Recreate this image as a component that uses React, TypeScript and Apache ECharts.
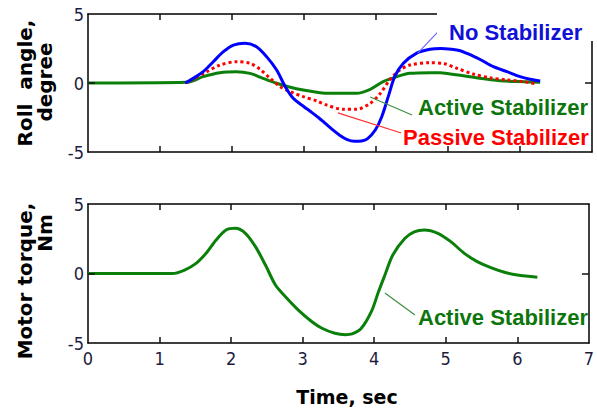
import React, { useEffect, useRef } from "react";
import * as echarts from "echarts";

// Top plot: roll angle (degree) vs time (sec)
const noStabX = [1.35, 1.45, 1.6, 1.74, 1.88, 2.02, 2.18, 2.34, 2.48, 2.62, 2.74, 2.85, 3.0, 3.1, 3.2, 3.3, 3.4, 3.5, 3.6, 3.7, 3.8, 3.88, 3.99, 4.08, 4.17, 4.26, 4.38, 4.56, 4.75, 4.9, 5.05, 5.17, 5.26, 5.44, 5.63, 5.82, 6.0, 6.14, 6.28];
const noStabY = [0, 0.3, 0.82, 1.54, 2.27, 2.75, 2.88, 2.63, 1.91, 0.94, -0.27, -1.11, -1.72, -2.1, -2.5, -2.95, -3.4, -3.8, -4.1, -4.22, -4.2, -4.05, -3.41, -2.44, -0.99, 0.46, 1.43, 2.15, 2.44, 2.5, 2.44, 2.34, 2.15, 1.72, 1.18, 0.82, 0.46, 0.27, 0.14];

const passiveX = [1.35, 1.45, 1.65, 1.83, 2.06, 2.25, 2.39, 2.53, 2.67, 2.81, 2.99, 3.18, 3.31, 3.55, 3.73, 3.92, 4.06, 4.19, 4.33, 4.47, 4.75, 4.95, 5.12, 5.35, 5.58, 5.82, 6.05, 6.23];
const passiveY = [0, 0.25, 0.82, 1.3, 1.54, 1.43, 0.99, 0.34, -0.27, -0.63, -0.99, -1.3, -1.59, -1.91, -1.91, -1.47, -0.75, 0.22, 0.94, 1.3, 1.47, 1.4, 1.07, 0.65, 0.38, 0.22, 0.1, -0.07];

const activeX = [0, 1.37, 1.6, 1.83, 2.06, 2.25, 2.43, 2.62, 2.81, 2.99, 3.22, 3.36, 3.73, 3.92, 4.1, 4.29, 4.47, 4.75, 4.89, 5.03, 5.17, 5.44, 5.72, 6.0, 6.28];
const activeY = [0, 0.05, 0.46, 0.75, 0.82, 0.7, 0.34, -0.02, -0.31, -0.51, -0.7, -0.75, -0.75, -0.46, 0.1, 0.46, 0.7, 0.75, 0.75, 0.66, 0.56, 0.34, 0.17, 0.1, 0.05];

// Bottom plot: motor torque (Nm) vs time (sec)
const torqueX = [0, 1.18, 1.35, 1.51, 1.65, 1.79, 1.93, 2.06, 2.2, 2.34, 2.48, 2.62, 2.76, 2.94, 3.13, 3.27, 3.45, 3.6, 3.69, 3.82, 3.96, 4.06, 4.15, 4.26, 4.43, 4.56, 4.7, 4.89, 5.07, 5.26, 5.44, 5.63, 5.82, 6.0, 6.28];
const torqueY = [0, 0, 0.25, 0.73, 1.45, 2.41, 3.13, 3.25, 2.89, 1.93, 0.61, -0.83, -1.67, -2.63, -3.47, -3.94, -4.3, -4.4, -4.35, -3.94, -2.75, -1.31, -0.11, 1.33, 2.53, 3.0, 3.13, 2.89, 2.29, 1.45, 0.85, 0.42, 0.09, -0.11, -0.27];

const xTicks = [0, 1, 2, 3, 4, 5, 6, 7];
const yTicks = [-5, 0, 5];

const seriesNames = ["No Stabilizer", "Passive Stabilizer", "Active Stabilizer"];
const yTitles = ["Roll  angle,", "degree", "Motor torque,", "Nm"];
const xTitle = "Time, sec";

const zip = (xs: number[], ys: number[]) => xs.map((x, i) => [x, ys[i]]);

const tickFont = "'Liberation Sans Narrow', 'DejaVu Sans Condensed', 'Liberation Sans', sans-serif";
const annoFont = "'Liberation Sans', Arial, sans-serif";
const titleFont = "'DejaVu Sans', sans-serif";

const xMin = xTicks[0];
const xMax = xTicks[xTicks.length - 1];
const yMin = yTicks[0];
const yMax = yTicks[yTicks.length - 1];

const lineOpts = () => ({ show: true, onZero: false, lineStyle: { color: "#000", width: 1.5 } });

function makeXAxis(gridIndex: number, position: "bottom" | "top", labels: boolean) {
  return {
    type: "value",
    gridIndex,
    position,
    min: xMin,
    max: xMax,
    interval: 1,
    axisLine: lineOpts(),
    axisTick: { show: false },
    axisLabel: {
      show: labels,
      margin: 6,
      fontSize: 18,
      fontFamily: tickFont,
      color: "#1c1c40",
    },
    splitLine: { show: false },
  };
}

function makeYAxis(gridIndex: number, position: "left" | "right", labels: boolean) {
  return {
    type: "value",
    gridIndex,
    position,
    min: yMin,
    max: yMax,
    interval: 5,
    axisLine: lineOpts(),
    axisTick: { show: false },
    axisLabel: {
      show: labels,
      margin: 4,
      fontSize: 18,
      fontFamily: tickFont,
      color: "#1c1c40",
      padding: [5, 0, 0, 0],
    },
    splitLine: { show: false },
  };
}

const tickStyle = { color: "#111", width: 1.5, type: "solid" };

// inside tick marks, placed in data units through the axes' scales
function tickPairs(xLen: number, yLen: number) {
  const pairs: any[] = [];
  xTicks.filter((t) => t > xMin && t < xMax).forEach((t) => {
    pairs.push([{ coord: [t, yMin], lineStyle: tickStyle }, { coord: [t, yMin + yLen] }]);
    pairs.push([{ coord: [t, yMax], lineStyle: tickStyle }, { coord: [t, yMax - yLen] }]);
  });
  yTicks.filter((t) => t > yMin && t < yMax).forEach((t) => {
    pairs.push([{ coord: [xMin, t], lineStyle: tickStyle }, { coord: [xMin + xLen, t] }]);
    pairs.push([{ coord: [xMax, t], lineStyle: tickStyle }, { coord: [xMax - xLen, t] }]);
  });
  return pairs;
}

const leaderPair = (a: number[], b: number[], color: string) => [
  { coord: a, lineStyle: { color, width: 1.2, type: "solid" } },
  { coord: b },
];

const markLineOf = (pairs: any[]) => ({
  silent: true,
  symbol: ["none", "none"],
  label: { show: false },
  lineStyle: { width: 1.2, type: "solid" },
  data: pairs,
});

export default function App() {
  const ref = useRef<HTMLDivElement>(null);

  useEffect(() => {
    if (!ref.current) return;
    const chart = echarts.init(ref.current, undefined, { renderer: "svg" });
    const annoStyle = (text: string, fill: string) => ({
      text,
      fill,
      font: `bold 22px ${annoFont}`,
      textAlign: "left",
      textVerticalAlign: "middle",
    });
    const titleStyle = (text: string, size: number) => ({
      text,
      fill: "#000",
      font: `bold ${size}px ${titleFont}`,
      textAlign: "center",
      textVerticalAlign: "middle",
    });
    const option: any = {
      animation: false,
      backgroundColor: "#fff",
      grid: [
        { left: 88, top: 14, width: 504, height: 138 },
        { left: 88, top: 204, width: 504, height: 139 },
      ],
      xAxis: [
        makeXAxis(0, "bottom", false),
        makeXAxis(0, "top", false),
        makeXAxis(1, "bottom", true),
        makeXAxis(1, "top", false),
      ],
      yAxis: [
        makeYAxis(0, "left", true),
        makeYAxis(0, "right", false),
        makeYAxis(1, "left", true),
        makeYAxis(1, "right", false),
      ],
      series: [
        {
          name: seriesNames[2],
          type: "line",
          xAxisIndex: 0,
          yAxisIndex: 0,
          data: zip(activeX, activeY),
          showSymbol: false,
          smooth: 0.3,
          lineStyle: { color: "#0a800a", width: 3 },
          markLine: markLineOf([
            leaderPair([3.92, -1.01], [4.5, -2.32], "#3f8f3f"),
            ...tickPairs(0.097, 0.43),
          ]),
          z: 2,
        },
        {
          name: seriesNames[1],
          type: "line",
          xAxisIndex: 0,
          yAxisIndex: 0,
          data: zip(passiveX, passiveY),
          showSymbol: false,
          smooth: 0.3,
          lineStyle: { color: "#ff0000", width: 3, type: [3, 3] },
          markLine: markLineOf([leaderPair([3.47, -2.17], [4.35, -3.62], "#ff3030")]),
          z: 3,
        },
        {
          name: seriesNames[0],
          type: "line",
          xAxisIndex: 0,
          yAxisIndex: 0,
          data: zip(noStabX, noStabY),
          showSymbol: false,
          smooth: 0.3,
          lineStyle: { color: "#0000ff", width: 3 },
          markLine: markLineOf([leaderPair([4.58, 2.17], [4.86, 3.7], "#6a6aff")]),
          z: 4,
        },
        {
          name: seriesNames[2] + " torque",
          type: "line",
          xAxisIndex: 2,
          yAxisIndex: 2,
          data: zip(torqueX, torqueY),
          showSymbol: false,
          smooth: 0.3,
          lineStyle: { color: "#0a800a", width: 3 },
          markLine: markLineOf([
            leaderPair([4.15, -1.4], [4.57, -2.99], "#3f8f3f"),
            ...tickPairs(0.097, 0.43),
          ]),
        },
      ],
      graphic: [
        { type: "rect", z: 100, shape: { x: 437, y: 5, width: 160, height: 36 }, style: { fill: "#fff" } },
        { type: "text", z: 101, x: 449, y: 32, style: annoStyle(seriesNames[0], "#1010d8") },
        { type: "text", z: 101, x: 418, y: 107, style: annoStyle(seriesNames[2], "#0c760c") },
        { type: "text", z: 101, x: 403, y: 137, style: annoStyle(seriesNames[1], "#ff0000") },
        { type: "text", z: 101, x: 418, y: 317, style: annoStyle(seriesNames[2], "#0c760c") },
        { type: "text", z: 101, x: 25, y: 83, rotation: Math.PI / 2, style: titleStyle(yTitles[0], 20) },
        { type: "text", z: 101, x: 45, y: 82, rotation: Math.PI / 2, style: titleStyle(yTitles[1], 20) },
        { type: "text", z: 101, x: 25, y: 281, rotation: Math.PI / 2, style: titleStyle(yTitles[2], 20) },
        { type: "text", z: 101, x: 45, y: 233, rotation: Math.PI / 2, style: titleStyle(yTitles[3], 20) },
        { type: "text", z: 101, x: 347, y: 397, style: titleStyle(xTitle, 19) },
      ],
    };
    chart.setOption(option);
    return () => chart.dispose();
  }, []);

  return (
    <div
      ref={ref}
      style={{ position: "absolute", left: 0, top: 0, width: 597, height: 411, background: "#fff" }}
    />
  );
}
